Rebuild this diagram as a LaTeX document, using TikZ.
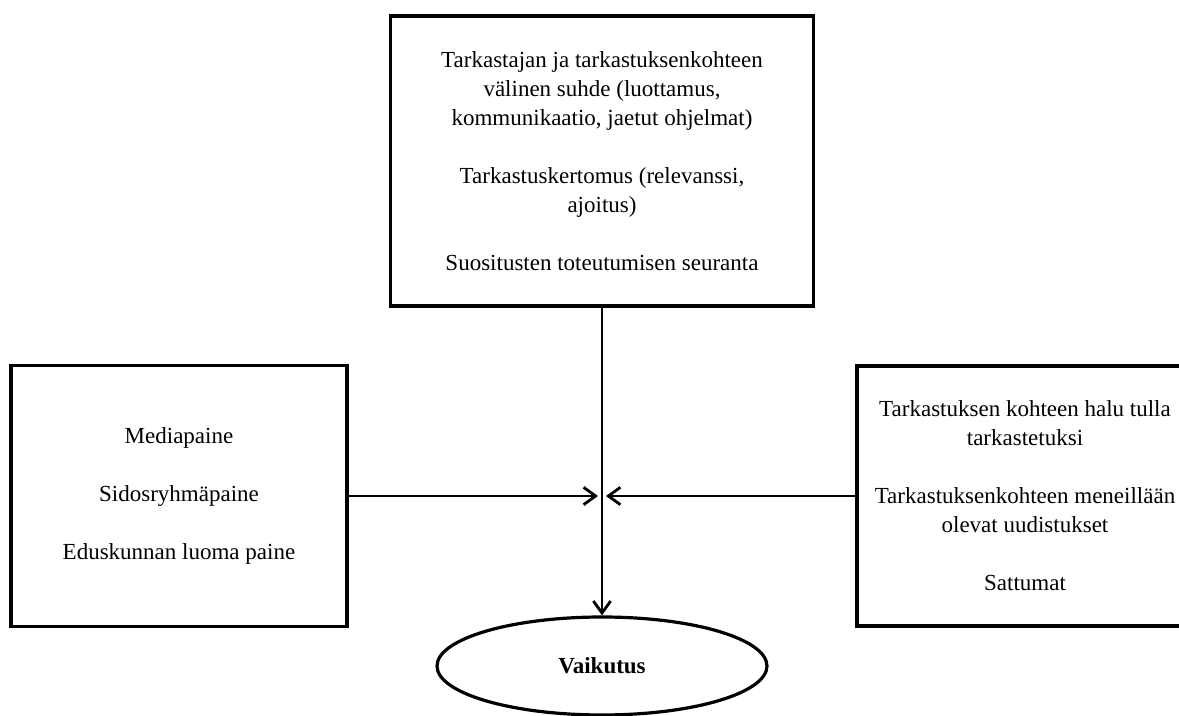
\documentclass[tikz,border=0pt]{standalone}
\usepackage{fontspec}
\setmainfont{Liberation Serif}
\usetikzlibrary{shapes.geometric,arrows.meta}
\begin{document}
\begin{tikzpicture}[x=0.75pt,y=-0.75pt,
  every node/.style={font=\fontsize{17.25pt}{21.75pt}\selectfont},
  boxnode/.style={draw,line width=2.4pt,rectangle,inner sep=0pt,align=center},
  ellnode/.style={draw,line width=2.4pt,ellipse,inner sep=0pt,minimum width=247.5pt,minimum height=73.5pt},
  conn/.style={line width=2.1pt,-{Straight Barb[length=9pt,width=13pt,line width=2.1pt]}}]
\useasboundingbox (0,0) rectangle (1179,716);
\node[boxnode,minimum width=317.25pt,minimum height=217.5pt] (top) at (602,161)
 {Tarkastajan ja tarkastuksenkohteen\\välinen suhde (luottamus,\\kommunikaatio, jaetut ohjelmat)\\[21.75pt]Tarkastuskertomus (relevanssi,\\ajoitus)\\[21.75pt]Suositusten toteutumisen seuranta};
\node[boxnode,minimum width=252pt,minimum height=195.75pt] (left) at (179,496)
 {Mediapaine\\[21.75pt]Sidosryhmäpaine\\[21.75pt]Eduskunnan luoma paine};
\node[boxnode,minimum width=252pt,minimum height=195pt] (right) at (1025,496)
 {Tarkastuksen kohteen halu tulla\\tarkastetuksi\\[21.75pt]Tarkastuksenkohteen meneillään\\olevat uudistukset\\[21.75pt]Sattumat};
\node[ellnode] (vk) at (602,666) {\textbf{Vaikutus}};
\coordinate (jl) at (598,496);
\coordinate (jr) at (606,496);
\draw[conn] (top) -- (vk);
\draw[conn] (left) -- (jl);
\draw[conn] (right) -- (jr);
\end{tikzpicture}
\end{document}
